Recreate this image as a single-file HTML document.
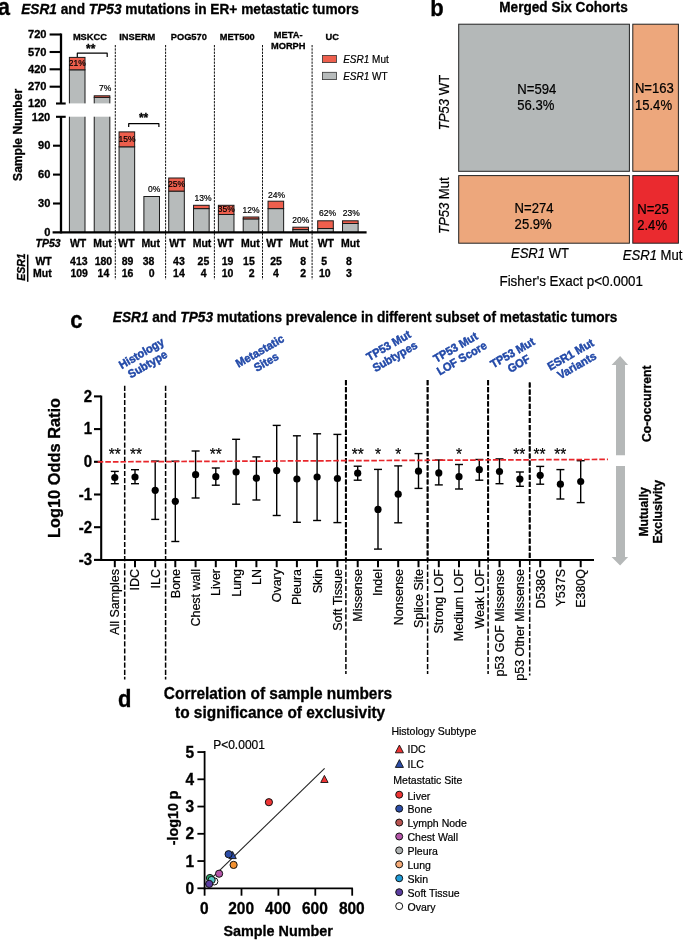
<!DOCTYPE html>
<html lang="en">
<head>
<meta charset="utf-8">
<title>ESR1 and TP53 mutations in ER+ metastatic tumors</title>
<style>
html,body{margin:0;padding:0;background:#fff;}
body{width:685px;height:940px;overflow:hidden;}
svg{display:block;font-family:"Liberation Sans",Arial,Helvetica,sans-serif;}
svg text{white-space:pre;}
</style>
</head>
<body>
<svg width="685" height="940" viewBox="0 0 685 940">
<rect x="0" y="0" width="685" height="940" fill="#ffffff"/>
<text text-anchor="start" fill="#000" style="font-size:22px;font-weight:bold;stroke:#000;stroke-width:0.3px;" transform="translate(-2.20 15.10) scale(1 1.05)" >a</text>
<text text-anchor="start" fill="#000" style="font-size:13.69px;font-weight:bold;stroke:#000;stroke-width:0.3px;" transform="translate(21.20 14.10) scale(1 1.05)" ><tspan style="font-style:italic">ESR1</tspan> and <tspan style="font-style:italic">TP53</tspan> mutations in ER+ metastatic tumors</text>
<rect x="69.40" y="69.80" width="15.60" height="162.60" fill="#b7bbbb" stroke="#1a1a1a" stroke-width="1" />
<rect x="69.40" y="57.40" width="15.60" height="12.40" fill="#ee5f4d" stroke="#1a1a1a" stroke-width="1" />
<rect x="94.23" y="97.40" width="15.60" height="135.00" fill="#b7bbbb" stroke="#1a1a1a" stroke-width="1" />
<rect x="94.23" y="95.80" width="15.60" height="1.60" fill="#ee5f4d" stroke="#1a1a1a" stroke-width="1" />
<rect x="119.06" y="146.80" width="15.60" height="85.60" fill="#b7bbbb" stroke="#1a1a1a" stroke-width="1" />
<rect x="119.06" y="131.90" width="15.60" height="14.90" fill="#ee5f4d" stroke="#1a1a1a" stroke-width="1" />
<rect x="143.89" y="196.50" width="15.60" height="35.90" fill="#b7bbbb" stroke="#1a1a1a" stroke-width="1" />
<rect x="168.72" y="191.10" width="15.60" height="41.30" fill="#b7bbbb" stroke="#1a1a1a" stroke-width="1" />
<rect x="168.72" y="178.00" width="15.60" height="13.10" fill="#ee5f4d" stroke="#1a1a1a" stroke-width="1" />
<rect x="193.55" y="208.60" width="15.60" height="23.80" fill="#b7bbbb" stroke="#1a1a1a" stroke-width="1" />
<rect x="193.55" y="205.30" width="15.60" height="3.30" fill="#ee5f4d" stroke="#1a1a1a" stroke-width="1" />
<rect x="218.38" y="214.50" width="15.60" height="17.90" fill="#b7bbbb" stroke="#1a1a1a" stroke-width="1" />
<rect x="218.38" y="205.30" width="15.60" height="9.20" fill="#ee5f4d" stroke="#1a1a1a" stroke-width="1" />
<rect x="243.21" y="218.90" width="15.60" height="13.50" fill="#b7bbbb" stroke="#1a1a1a" stroke-width="1" />
<rect x="243.21" y="217.00" width="15.60" height="1.90" fill="#ee5f4d" stroke="#1a1a1a" stroke-width="1" />
<rect x="268.04" y="208.60" width="15.60" height="23.80" fill="#b7bbbb" stroke="#1a1a1a" stroke-width="1" />
<rect x="268.04" y="201.20" width="15.60" height="7.40" fill="#ee5f4d" stroke="#1a1a1a" stroke-width="1" />
<rect x="292.87" y="229.60" width="15.60" height="2.80" fill="#b7bbbb" stroke="#1a1a1a" stroke-width="1" />
<rect x="292.87" y="227.20" width="15.60" height="2.40" fill="#ee5f4d" stroke="#1a1a1a" stroke-width="1" />
<rect x="317.70" y="228.50" width="15.60" height="3.90" fill="#b7bbbb" stroke="#1a1a1a" stroke-width="1" />
<rect x="317.70" y="220.80" width="15.60" height="7.70" fill="#ee5f4d" stroke="#1a1a1a" stroke-width="1" />
<rect x="342.53" y="223.50" width="15.60" height="8.90" fill="#b7bbbb" stroke="#1a1a1a" stroke-width="1" />
<rect x="342.53" y="220.80" width="15.60" height="2.70" fill="#ee5f4d" stroke="#1a1a1a" stroke-width="1" />
<rect x="64" y="103.4" width="50" height="13.3" fill="#fff"/>
<line x1="115.30" y1="45.00" x2="115.30" y2="279.50" stroke="#111" stroke-width="1.0" stroke-dasharray="2.3 1.0"/>
<line x1="165.60" y1="45.00" x2="165.60" y2="279.50" stroke="#111" stroke-width="1.0" stroke-dasharray="2.3 1.0"/>
<line x1="214.40" y1="45.00" x2="214.40" y2="279.50" stroke="#111" stroke-width="1.0" stroke-dasharray="2.3 1.0"/>
<line x1="262.50" y1="45.00" x2="262.50" y2="279.50" stroke="#111" stroke-width="1.0" stroke-dasharray="2.3 1.0"/>
<line x1="312.10" y1="45.00" x2="312.10" y2="279.50" stroke="#111" stroke-width="1.0" stroke-dasharray="2.3 1.0"/>
<line x1="61.00" y1="33.50" x2="61.00" y2="103.50" stroke="#000" stroke-width="2.3" />
<line x1="49.60" y1="34.50" x2="61.00" y2="34.50" stroke="#000" stroke-width="2.1" />
<line x1="49.60" y1="52.00" x2="61.00" y2="52.00" stroke="#000" stroke-width="2.1" />
<line x1="49.60" y1="69.30" x2="61.00" y2="69.30" stroke="#000" stroke-width="2.1" />
<line x1="49.60" y1="86.70" x2="61.00" y2="86.70" stroke="#000" stroke-width="2.1" />
<line x1="56.00" y1="103.50" x2="65.70" y2="103.50" stroke="#000" stroke-width="2.1" />
<line x1="56.00" y1="116.80" x2="65.70" y2="116.80" stroke="#000" stroke-width="2.1" />
<line x1="61.00" y1="116.80" x2="61.00" y2="233.40" stroke="#000" stroke-width="2.3" />
<line x1="53.00" y1="145.70" x2="61.00" y2="145.70" stroke="#000" stroke-width="2.1" />
<line x1="53.00" y1="174.60" x2="61.00" y2="174.60" stroke="#000" stroke-width="2.1" />
<line x1="53.00" y1="203.50" x2="61.00" y2="203.50" stroke="#000" stroke-width="2.1" />
<line x1="52.60" y1="232.40" x2="366.60" y2="232.40" stroke="#000" stroke-width="2.1" />
<text text-anchor="end" fill="#000" style="font-size:11.1px;font-weight:bold;stroke:#000;stroke-width:0.3px;" transform="translate(46.50 38.00) scale(1 1.05)" >720</text>
<text text-anchor="end" fill="#000" style="font-size:11.1px;font-weight:bold;stroke:#000;stroke-width:0.3px;" transform="translate(46.50 55.70) scale(1 1.05)" >570</text>
<text text-anchor="end" fill="#000" style="font-size:11.1px;font-weight:bold;stroke:#000;stroke-width:0.3px;" transform="translate(46.50 73.00) scale(1 1.05)" >420</text>
<text text-anchor="end" fill="#000" style="font-size:11.1px;font-weight:bold;stroke:#000;stroke-width:0.3px;" transform="translate(46.50 90.40) scale(1 1.05)" >270</text>
<text text-anchor="end" fill="#000" style="font-size:11.1px;font-weight:bold;stroke:#000;stroke-width:0.3px;" transform="translate(46.50 107.40) scale(1 1.05)" >120</text>
<text text-anchor="end" fill="#000" style="font-size:11.1px;font-weight:bold;stroke:#000;stroke-width:0.3px;" transform="translate(50.30 120.70) scale(1 1.05)" >120</text>
<text text-anchor="end" fill="#000" style="font-size:11.1px;font-weight:bold;stroke:#000;stroke-width:0.3px;" transform="translate(50.30 149.40) scale(1 1.05)" >90</text>
<text text-anchor="end" fill="#000" style="font-size:11.1px;font-weight:bold;stroke:#000;stroke-width:0.3px;" transform="translate(50.30 178.30) scale(1 1.05)" >60</text>
<text text-anchor="end" fill="#000" style="font-size:11.1px;font-weight:bold;stroke:#000;stroke-width:0.3px;" transform="translate(50.30 207.20) scale(1 1.05)" >30</text>
<text text-anchor="end" fill="#000" style="font-size:11.1px;font-weight:bold;stroke:#000;stroke-width:0.3px;" transform="translate(50.30 236.10) scale(1 1.05)" >0</text>
<text text-anchor="middle" fill="#000" style="font-size:12.1px;font-weight:bold;stroke:#000;stroke-width:0.3px;" transform="translate(22.00 134.90) rotate(-90) scale(1 1.05)" >Sample Number</text>
<text text-anchor="middle" fill="#000" style="font-size:9.3px;font-weight:bold;stroke:#000;stroke-width:0.3px;" transform="translate(89.90 39.50) scale(1 1.05)" >MSKCC</text>
<text text-anchor="middle" fill="#000" style="font-size:9.3px;font-weight:bold;stroke:#000;stroke-width:0.3px;" transform="translate(137.30 39.60) scale(1 1.05)" >INSERM</text>
<text text-anchor="middle" fill="#000" style="font-size:9.3px;font-weight:bold;stroke:#000;stroke-width:0.3px;" transform="translate(188.80 39.60) scale(1 1.05)" >POG570</text>
<text text-anchor="middle" fill="#000" style="font-size:9.3px;font-weight:bold;stroke:#000;stroke-width:0.3px;" transform="translate(237.20 39.70) scale(1 1.05)" >MET500</text>
<text text-anchor="middle" fill="#000" style="font-size:9.3px;font-weight:bold;stroke:#000;stroke-width:0.3px;" transform="translate(288.20 38.10) scale(1 1.05)" >META-</text>
<text text-anchor="middle" fill="#000" style="font-size:9.3px;font-weight:bold;stroke:#000;stroke-width:0.3px;" transform="translate(288.20 48.70) scale(1 1.05)" >MORPH</text>
<text text-anchor="middle" fill="#000" style="font-size:9.3px;font-weight:bold;stroke:#000;stroke-width:0.3px;" transform="translate(332.30 39.70) scale(1 1.05)" >UC</text>
<path d="M77.3 56.9 V53.2 H107.2 V56.9" fill="none" stroke="#000" stroke-width="1.2" stroke-linejoin="round"/>
<text text-anchor="middle" fill="#000" style="font-size:12px;font-weight:bold;stroke:#000;stroke-width:0.3px;" transform="translate(90.70 53.20) scale(1 1.05)" >**</text>
<path d="M128.7 127.0 V123.7 H158.9 V127.0" fill="none" stroke="#000" stroke-width="1.2" stroke-linejoin="round"/>
<text text-anchor="middle" fill="#000" style="font-size:12px;font-weight:bold;stroke:#000;stroke-width:0.3px;" transform="translate(143.60 122.20) scale(1 1.05)" >**</text>
<text text-anchor="middle" fill="#000" style="font-size:8.5px;stroke:#000;stroke-width:0.2px;" transform="translate(77.20 66.20) scale(1 1.05)" >21%</text>
<text text-anchor="middle" fill="#000" style="font-size:8.5px;stroke:#000;stroke-width:0.2px;" transform="translate(105.20 90.70) scale(1 1.05)" >7%</text>
<text text-anchor="middle" fill="#000" style="font-size:8.5px;stroke:#000;stroke-width:0.2px;" transform="translate(127.00 142.40) scale(1 1.05)" >15%</text>
<text text-anchor="middle" fill="#000" style="font-size:8.5px;stroke:#000;stroke-width:0.2px;" transform="translate(154.20 192.40) scale(1 1.05)" >0%</text>
<text text-anchor="middle" fill="#000" style="font-size:8.5px;stroke:#000;stroke-width:0.2px;" transform="translate(176.60 187.20) scale(1 1.05)" >25%</text>
<text text-anchor="middle" fill="#000" style="font-size:8.5px;stroke:#000;stroke-width:0.2px;" transform="translate(203.00 201.20) scale(1 1.05)" >13%</text>
<text text-anchor="middle" fill="#000" style="font-size:8.5px;stroke:#000;stroke-width:0.2px;" transform="translate(226.30 212.00) scale(1 1.05)" >35%</text>
<text text-anchor="middle" fill="#000" style="font-size:8.5px;stroke:#000;stroke-width:0.2px;" transform="translate(251.10 212.80) scale(1 1.05)" >12%</text>
<text text-anchor="middle" fill="#000" style="font-size:8.5px;stroke:#000;stroke-width:0.2px;" transform="translate(276.50 197.70) scale(1 1.05)" >24%</text>
<text text-anchor="middle" fill="#000" style="font-size:8.5px;stroke:#000;stroke-width:0.2px;" transform="translate(300.70 222.80) scale(1 1.05)" >20%</text>
<text text-anchor="middle" fill="#000" style="font-size:8.5px;stroke:#000;stroke-width:0.2px;" transform="translate(327.60 215.80) scale(1 1.05)" >62%</text>
<text text-anchor="middle" fill="#000" style="font-size:8.5px;stroke:#000;stroke-width:0.2px;" transform="translate(351.20 215.80) scale(1 1.05)" >23%</text>
<rect x="322.40" y="55.40" width="14.00" height="7.20" fill="#ee5f4d" stroke="#333" stroke-width="0.8" />
<rect x="322.40" y="72.30" width="14.00" height="7.30" fill="#b7bbbb" stroke="#333" stroke-width="0.8" />
<text text-anchor="start" fill="#000" style="font-size:10px;stroke:#000;stroke-width:0.2px;" transform="translate(343.20 62.70) scale(1 1.05)" ><tspan style="font-style:italic">ESR1</tspan> Mut</text>
<text text-anchor="start" fill="#000" style="font-size:10px;stroke:#000;stroke-width:0.2px;" transform="translate(343.20 79.80) scale(1 1.05)" ><tspan style="font-style:italic">ESR1</tspan> WT</text>
<text text-anchor="start" fill="#000" style="font-size:10.5px;font-weight:bold;stroke:#000;stroke-width:0.3px;font-style:italic;" transform="translate(35.60 247.10) scale(1 1.05)" >TP53</text>
<text text-anchor="middle" fill="#000" style="font-size:10.5px;font-weight:bold;stroke:#000;stroke-width:0.3px;" transform="translate(78.10 247.10) scale(1 1.05)" >WT</text>
<text text-anchor="middle" fill="#000" style="font-size:10.5px;font-weight:bold;stroke:#000;stroke-width:0.3px;" transform="translate(126.40 247.10) scale(1 1.05)" >WT</text>
<text text-anchor="middle" fill="#000" style="font-size:10.5px;font-weight:bold;stroke:#000;stroke-width:0.3px;" transform="translate(177.40 247.10) scale(1 1.05)" >WT</text>
<text text-anchor="middle" fill="#000" style="font-size:10.5px;font-weight:bold;stroke:#000;stroke-width:0.3px;" transform="translate(225.60 247.10) scale(1 1.05)" >WT</text>
<text text-anchor="middle" fill="#000" style="font-size:10.5px;font-weight:bold;stroke:#000;stroke-width:0.3px;" transform="translate(274.50 247.10) scale(1 1.05)" >WT</text>
<text text-anchor="middle" fill="#000" style="font-size:10.5px;font-weight:bold;stroke:#000;stroke-width:0.3px;" transform="translate(325.80 247.10) scale(1 1.05)" >WT</text>
<text text-anchor="middle" fill="#000" style="font-size:10.5px;font-weight:bold;stroke:#000;stroke-width:0.3px;" transform="translate(102.50 247.10) scale(1 1.05)" >Mut</text>
<text text-anchor="middle" fill="#000" style="font-size:10.5px;font-weight:bold;stroke:#000;stroke-width:0.3px;" transform="translate(150.70 247.10) scale(1 1.05)" >Mut</text>
<text text-anchor="middle" fill="#000" style="font-size:10.5px;font-weight:bold;stroke:#000;stroke-width:0.3px;" transform="translate(202.00 247.10) scale(1 1.05)" >Mut</text>
<text text-anchor="middle" fill="#000" style="font-size:10.5px;font-weight:bold;stroke:#000;stroke-width:0.3px;" transform="translate(250.30 247.10) scale(1 1.05)" >Mut</text>
<text text-anchor="middle" fill="#000" style="font-size:10.5px;font-weight:bold;stroke:#000;stroke-width:0.3px;" transform="translate(298.80 247.10) scale(1 1.05)" >Mut</text>
<text text-anchor="middle" fill="#000" style="font-size:10.5px;font-weight:bold;stroke:#000;stroke-width:0.3px;" transform="translate(350.30 247.10) scale(1 1.05)" >Mut</text>
<text text-anchor="middle" fill="#000" style="font-size:10.5px;font-weight:bold;stroke:#000;stroke-width:0.3px;" transform="translate(43.60 264.60) scale(1 1.05)" >WT</text>
<text text-anchor="middle" fill="#000" style="font-size:10.5px;font-weight:bold;stroke:#000;stroke-width:0.3px;" transform="translate(42.40 277.10) scale(1 1.05)" >Mut</text>
<text text-anchor="middle" fill="#000" style="font-size:10.5px;font-weight:bold;stroke:#000;stroke-width:0.3px;font-style:italic;" transform="translate(25.10 267.00) rotate(-90) scale(1 1.05)" >ESR1</text>
<line x1="27.70" y1="254.60" x2="27.70" y2="281.80" stroke="#000" stroke-width="1.5" />
<text text-anchor="middle" fill="#000" style="font-size:10.5px;font-weight:bold;stroke:#000;stroke-width:0.3px;" transform="translate(78.80 264.60) scale(1 1.05)" >413</text>
<text text-anchor="middle" fill="#000" style="font-size:10.5px;font-weight:bold;stroke:#000;stroke-width:0.3px;" transform="translate(103.40 264.60) scale(1 1.05)" >180</text>
<text text-anchor="middle" fill="#000" style="font-size:10.5px;font-weight:bold;stroke:#000;stroke-width:0.3px;" transform="translate(127.50 264.60) scale(1 1.05)" >89</text>
<text text-anchor="middle" fill="#000" style="font-size:10.5px;font-weight:bold;stroke:#000;stroke-width:0.3px;" transform="translate(148.50 264.60) scale(1 1.05)" >38</text>
<text text-anchor="middle" fill="#000" style="font-size:10.5px;font-weight:bold;stroke:#000;stroke-width:0.3px;" transform="translate(178.90 264.60) scale(1 1.05)" >43</text>
<text text-anchor="middle" fill="#000" style="font-size:10.5px;font-weight:bold;stroke:#000;stroke-width:0.3px;" transform="translate(203.40 264.60) scale(1 1.05)" >25</text>
<text text-anchor="middle" fill="#000" style="font-size:10.5px;font-weight:bold;stroke:#000;stroke-width:0.3px;" transform="translate(227.50 264.60) scale(1 1.05)" >19</text>
<text text-anchor="middle" fill="#000" style="font-size:10.5px;font-weight:bold;stroke:#000;stroke-width:0.3px;" transform="translate(248.90 264.60) scale(1 1.05)" >15</text>
<text text-anchor="middle" fill="#000" style="font-size:10.5px;font-weight:bold;stroke:#000;stroke-width:0.3px;" transform="translate(276.00 264.60) scale(1 1.05)" >25</text>
<text text-anchor="middle" fill="#000" style="font-size:10.5px;font-weight:bold;stroke:#000;stroke-width:0.3px;" transform="translate(303.20 264.60) scale(1 1.05)" >8</text>
<text text-anchor="middle" fill="#000" style="font-size:10.5px;font-weight:bold;stroke:#000;stroke-width:0.3px;" transform="translate(324.20 264.60) scale(1 1.05)" >5</text>
<text text-anchor="middle" fill="#000" style="font-size:10.5px;font-weight:bold;stroke:#000;stroke-width:0.3px;" transform="translate(348.90 264.60) scale(1 1.05)" >8</text>
<text text-anchor="middle" fill="#000" style="font-size:10.5px;font-weight:bold;stroke:#000;stroke-width:0.3px;" transform="translate(79.20 277.10) scale(1 1.05)" >109</text>
<text text-anchor="middle" fill="#000" style="font-size:10.5px;font-weight:bold;stroke:#000;stroke-width:0.3px;" transform="translate(103.40 277.10) scale(1 1.05)" >14</text>
<text text-anchor="middle" fill="#000" style="font-size:10.5px;font-weight:bold;stroke:#000;stroke-width:0.3px;" transform="translate(127.50 277.10) scale(1 1.05)" >16</text>
<text text-anchor="middle" fill="#000" style="font-size:10.5px;font-weight:bold;stroke:#000;stroke-width:0.3px;" transform="translate(151.60 277.10) scale(1 1.05)" >0</text>
<text text-anchor="middle" fill="#000" style="font-size:10.5px;font-weight:bold;stroke:#000;stroke-width:0.3px;" transform="translate(178.90 277.10) scale(1 1.05)" >14</text>
<text text-anchor="middle" fill="#000" style="font-size:10.5px;font-weight:bold;stroke:#000;stroke-width:0.3px;" transform="translate(203.60 277.10) scale(1 1.05)" >4</text>
<text text-anchor="middle" fill="#000" style="font-size:10.5px;font-weight:bold;stroke:#000;stroke-width:0.3px;" transform="translate(227.50 277.10) scale(1 1.05)" >10</text>
<text text-anchor="middle" fill="#000" style="font-size:10.5px;font-weight:bold;stroke:#000;stroke-width:0.3px;" transform="translate(251.60 277.10) scale(1 1.05)" >2</text>
<text text-anchor="middle" fill="#000" style="font-size:10.5px;font-weight:bold;stroke:#000;stroke-width:0.3px;" transform="translate(276.00 277.10) scale(1 1.05)" >4</text>
<text text-anchor="middle" fill="#000" style="font-size:10.5px;font-weight:bold;stroke:#000;stroke-width:0.3px;" transform="translate(303.20 277.10) scale(1 1.05)" >2</text>
<text text-anchor="middle" fill="#000" style="font-size:10.5px;font-weight:bold;stroke:#000;stroke-width:0.3px;" transform="translate(324.80 277.10) scale(1 1.05)" >10</text>
<text text-anchor="middle" fill="#000" style="font-size:10.5px;font-weight:bold;stroke:#000;stroke-width:0.3px;" transform="translate(348.90 277.10) scale(1 1.05)" >3</text>
<text text-anchor="start" fill="#000" style="font-size:22px;font-weight:bold;stroke:#000;stroke-width:0.3px;" transform="translate(430.30 15.80) scale(1 1.05)" >b</text>
<text text-anchor="middle" fill="#000" style="font-size:13.6px;font-weight:bold;stroke:#000;stroke-width:0.3px;" transform="translate(563.50 11.60) scale(1 1.05)" >Merged Six Cohorts</text>
<rect x="458.70" y="24.20" width="170.70" height="147.10" fill="#b4b8b8" stroke="#222" stroke-width="1" />
<rect x="632.80" y="24.20" width="45.60" height="147.10" fill="#eda77c" stroke="#222" stroke-width="1" />
<rect x="458.70" y="175.60" width="170.70" height="67.60" fill="#eda77c" stroke="#222" stroke-width="1" />
<rect x="632.80" y="175.60" width="45.60" height="67.60" fill="#ea2a2f" stroke="#222" stroke-width="1" />
<text text-anchor="start" fill="#000" style="font-size:13.1px;stroke:#000;stroke-width:0.2px;" transform="translate(517.30 94.00) scale(1 1.05)" >N=594</text>
<text text-anchor="start" fill="#000" style="font-size:13.1px;stroke:#000;stroke-width:0.2px;" transform="translate(517.30 110.30) scale(1 1.05)" >56.3%</text>
<text text-anchor="start" fill="#000" style="font-size:13.1px;stroke:#000;stroke-width:0.2px;" transform="translate(634.90 92.80) scale(1 1.05)" >N=163</text>
<text text-anchor="start" fill="#000" style="font-size:13.1px;stroke:#000;stroke-width:0.2px;" transform="translate(634.90 109.50) scale(1 1.05)" >15.4%</text>
<text text-anchor="start" fill="#000" style="font-size:13.1px;stroke:#000;stroke-width:0.2px;" transform="translate(514.60 213.00) scale(1 1.05)" >N=274</text>
<text text-anchor="start" fill="#000" style="font-size:13.1px;stroke:#000;stroke-width:0.2px;" transform="translate(514.60 229.30) scale(1 1.05)" >25.9%</text>
<text text-anchor="start" fill="#000" style="font-size:13.1px;stroke:#000;stroke-width:0.2px;" transform="translate(637.20 213.80) scale(1 1.05)" >N=25</text>
<text text-anchor="start" fill="#000" style="font-size:13.1px;stroke:#000;stroke-width:0.2px;" transform="translate(637.20 230.00) scale(1 1.05)" >2.4%</text>
<text text-anchor="middle" fill="#000" style="font-size:13.1px;stroke:#000;stroke-width:0.2px;" transform="translate(448.60 102.50) rotate(-90) scale(1 1.05)" ><tspan style="font-style:italic">TP53</tspan> WT</text>
<text text-anchor="middle" fill="#000" style="font-size:13.1px;stroke:#000;stroke-width:0.2px;" transform="translate(449.40 205.70) rotate(-90) scale(1 1.05)" ><tspan style="font-style:italic">TP53</tspan> Mut</text>
<text text-anchor="middle" fill="#000" style="font-size:13.1px;stroke:#000;stroke-width:0.2px;" transform="translate(540.00 258.30) scale(1 1.05)" ><tspan style="font-style:italic">ESR1</tspan> WT</text>
<text text-anchor="middle" fill="#000" style="font-size:13.1px;stroke:#000;stroke-width:0.2px;" transform="translate(652.60 260.20) scale(1 1.05)" ><tspan style="font-style:italic">ESR1</tspan> Mut</text>
<text text-anchor="middle" fill="#000" style="font-size:13.4px;stroke:#000;stroke-width:0.2px;" transform="translate(571.20 286.20) scale(1 1.05)" >Fisher&#39;s Exact p&lt;0.0001</text>
<text text-anchor="start" fill="#000" style="font-size:22px;font-weight:bold;stroke:#000;stroke-width:0.3px;" transform="translate(70.20 327.60) scale(1 1.05)" >c</text>
<text text-anchor="start" fill="#000" style="font-size:13.67px;font-weight:bold;stroke:#000;stroke-width:0.3px;" transform="translate(112.80 321.90) scale(1 1.05)" ><tspan style="font-style:italic">ESR1</tspan> and <tspan style="font-style:italic">TP53</tspan> mutations prevalence in different subset of metastatic tumors</text>
<g transform="translate(144.5 358.8) rotate(-30)" fill="#2249a8" style="font-size:11px;font-weight:bold" stroke="#2249a8" stroke-width="0.45" text-anchor="middle"><text transform="translate(0 -2.4) scale(1 1.05)">Histology</text><text transform="translate(0 10.2) scale(1 1.05)">Subtype</text></g>
<g transform="translate(263.0 356.5) rotate(-30)" fill="#2249a8" style="font-size:11px;font-weight:bold" stroke="#2249a8" stroke-width="0.45" text-anchor="middle"><text transform="translate(0 -2.4) scale(1 1.05)">Metastatic</text><text transform="translate(0 10.2) scale(1 1.05)">Sites</text></g>
<g transform="translate(391.7 351.0) rotate(-30)" fill="#2249a8" style="font-size:11px;font-weight:bold" stroke="#2249a8" stroke-width="0.45" text-anchor="middle"><text transform="translate(0 -2.4) scale(1 1.05)">TP53 Mut</text><text transform="translate(0 10.2) scale(1 1.05)">Subtypes</text></g>
<g transform="translate(458.6 352.8) rotate(-30)" fill="#2249a8" style="font-size:11px;font-weight:bold" stroke="#2249a8" stroke-width="0.45" text-anchor="middle"><text transform="translate(0 -2.4) scale(1 1.05)">TP53 Mut</text><text transform="translate(0 10.2) scale(1 1.05)">LOF Score</text></g>
<g transform="translate(515.6 358.3) rotate(-30)" fill="#2249a8" style="font-size:11px;font-weight:bold" stroke="#2249a8" stroke-width="0.45" text-anchor="middle"><text transform="translate(0 -2.4) scale(1 1.05)">TP53 Mut</text><text transform="translate(0 10.2) scale(1 1.05)">GOF</text></g>
<g transform="translate(573.6 360.0) rotate(-30)" fill="#2249a8" style="font-size:11px;font-weight:bold" stroke="#2249a8" stroke-width="0.45" text-anchor="middle"><text transform="translate(0 -2.4) scale(1 1.05)">ESR1 Mut</text><text transform="translate(0 10.2) scale(1 1.05)">Variants</text></g>
<line x1="124.70" y1="385.70" x2="124.70" y2="679.50" stroke="#000" stroke-width="1.5" stroke-dasharray="5.2 1.9"/>
<line x1="165.60" y1="385.70" x2="165.60" y2="679.50" stroke="#000" stroke-width="1.5" stroke-dasharray="5.2 1.9"/>
<line x1="345.90" y1="380.00" x2="345.90" y2="674.00" stroke="#000" stroke-width="1.5" stroke-dasharray="5.2 1.9"/>
<line x1="345.90" y1="380.00" x2="345.90" y2="560.00" stroke="#000" stroke-width="2.0" stroke-dasharray="5.2 1.9"/>
<line x1="427.60" y1="380.00" x2="427.60" y2="674.00" stroke="#000" stroke-width="1.5" stroke-dasharray="5.2 1.9"/>
<line x1="427.60" y1="380.00" x2="427.60" y2="560.00" stroke="#000" stroke-width="2.0" stroke-dasharray="5.2 1.9"/>
<line x1="488.10" y1="380.00" x2="488.10" y2="674.00" stroke="#000" stroke-width="1.5" stroke-dasharray="5.2 1.9"/>
<line x1="488.10" y1="380.00" x2="488.10" y2="560.00" stroke="#000" stroke-width="2.0" stroke-dasharray="5.2 1.9"/>
<line x1="529.70" y1="382.40" x2="529.70" y2="675.50" stroke="#000" stroke-width="1.5" stroke-dasharray="5.2 1.9"/>
<line x1="529.70" y1="382.40" x2="529.70" y2="560.00" stroke="#000" stroke-width="2.0" stroke-dasharray="5.2 1.9"/>
<line x1="101.20" y1="395.60" x2="101.20" y2="561.00" stroke="#000" stroke-width="2.1" />
<line x1="100.20" y1="560.00" x2="594.00" y2="560.00" stroke="#000" stroke-width="2.1" />
<line x1="94.00" y1="396.40" x2="101.20" y2="396.40" stroke="#000" stroke-width="2.1" />
<text text-anchor="end" fill="#000" style="font-size:15px;font-weight:bold;stroke:#000;stroke-width:0.3px;" transform="translate(92.00 401.70) scale(1 1.05)" >2</text>
<line x1="94.00" y1="429.10" x2="101.20" y2="429.10" stroke="#000" stroke-width="2.1" />
<text text-anchor="end" fill="#000" style="font-size:15px;font-weight:bold;stroke:#000;stroke-width:0.3px;" transform="translate(92.00 434.40) scale(1 1.05)" >1</text>
<line x1="94.00" y1="461.80" x2="101.20" y2="461.80" stroke="#000" stroke-width="2.1" />
<text text-anchor="end" fill="#000" style="font-size:15px;font-weight:bold;stroke:#000;stroke-width:0.3px;" transform="translate(92.00 467.10) scale(1 1.05)" >0</text>
<line x1="94.00" y1="494.50" x2="101.20" y2="494.50" stroke="#000" stroke-width="2.1" />
<text text-anchor="end" fill="#000" style="font-size:15px;font-weight:bold;stroke:#000;stroke-width:0.3px;" transform="translate(92.00 499.80) scale(1 1.05)" >-1</text>
<line x1="94.00" y1="527.20" x2="101.20" y2="527.20" stroke="#000" stroke-width="2.1" />
<text text-anchor="end" fill="#000" style="font-size:15px;font-weight:bold;stroke:#000;stroke-width:0.3px;" transform="translate(92.00 532.50) scale(1 1.05)" >-2</text>
<line x1="94.00" y1="559.90" x2="101.20" y2="559.90" stroke="#000" stroke-width="2.1" />
<text text-anchor="end" fill="#000" style="font-size:15px;font-weight:bold;stroke:#000;stroke-width:0.3px;" transform="translate(92.00 565.20) scale(1 1.05)" >-3</text>
<text text-anchor="middle" fill="#000" style="font-size:16.4px;font-weight:bold;stroke:#000;stroke-width:0.3px;" transform="translate(60.30 468.00) rotate(-90) scale(1 1.05)" >Log10 Odds Ratio</text>
<line x1="114.80" y1="471.40" x2="114.80" y2="483.70" stroke="#000" stroke-width="1.4" />
<line x1="110.80" y1="471.40" x2="118.80" y2="471.40" stroke="#000" stroke-width="1.4" />
<line x1="110.80" y1="483.70" x2="118.80" y2="483.70" stroke="#000" stroke-width="1.4" />
<circle cx="114.80" cy="477.50" r="3.6" fill="#000"/>
<line x1="114.80" y1="560.00" x2="114.80" y2="567.20" stroke="#000" stroke-width="2.0" />
<text text-anchor="end" fill="#000" style="font-size:12.5px;stroke:#000;stroke-width:0.2px;" transform="translate(119.20 569.00) rotate(-90) scale(1 1.05)" >All Samples</text>
<line x1="135.00" y1="469.70" x2="135.00" y2="483.70" stroke="#000" stroke-width="1.4" />
<line x1="131.00" y1="469.70" x2="139.00" y2="469.70" stroke="#000" stroke-width="1.4" />
<line x1="131.00" y1="483.70" x2="139.00" y2="483.70" stroke="#000" stroke-width="1.4" />
<circle cx="135.00" cy="477.00" r="3.6" fill="#000"/>
<line x1="135.00" y1="560.00" x2="135.00" y2="567.20" stroke="#000" stroke-width="2.0" />
<text text-anchor="end" fill="#000" style="font-size:12.5px;stroke:#000;stroke-width:0.2px;" transform="translate(139.40 569.00) rotate(-90) scale(1 1.05)" >IDC</text>
<line x1="155.20" y1="461.10" x2="155.20" y2="519.40" stroke="#000" stroke-width="1.4" />
<line x1="151.20" y1="461.10" x2="159.20" y2="461.10" stroke="#000" stroke-width="1.4" />
<line x1="151.20" y1="519.40" x2="159.20" y2="519.40" stroke="#000" stroke-width="1.4" />
<circle cx="155.20" cy="490.30" r="3.6" fill="#000"/>
<line x1="155.20" y1="560.00" x2="155.20" y2="567.20" stroke="#000" stroke-width="2.0" />
<text text-anchor="end" fill="#000" style="font-size:12.5px;stroke:#000;stroke-width:0.2px;" transform="translate(159.60 569.00) rotate(-90) scale(1 1.05)" >ILC</text>
<line x1="175.30" y1="461.20" x2="175.30" y2="541.50" stroke="#000" stroke-width="1.4" />
<line x1="171.30" y1="461.20" x2="179.30" y2="461.20" stroke="#000" stroke-width="1.4" />
<line x1="171.30" y1="541.50" x2="179.30" y2="541.50" stroke="#000" stroke-width="1.4" />
<circle cx="175.30" cy="501.30" r="3.6" fill="#000"/>
<line x1="175.30" y1="560.00" x2="175.30" y2="567.20" stroke="#000" stroke-width="2.0" />
<text text-anchor="end" fill="#000" style="font-size:12.5px;stroke:#000;stroke-width:0.2px;" transform="translate(179.70 569.00) rotate(-90) scale(1 1.05)" >Bone</text>
<line x1="195.60" y1="451.00" x2="195.60" y2="498.00" stroke="#000" stroke-width="1.4" />
<line x1="191.60" y1="451.00" x2="199.60" y2="451.00" stroke="#000" stroke-width="1.4" />
<line x1="191.60" y1="498.00" x2="199.60" y2="498.00" stroke="#000" stroke-width="1.4" />
<circle cx="195.60" cy="474.70" r="3.6" fill="#000"/>
<line x1="195.60" y1="560.00" x2="195.60" y2="567.20" stroke="#000" stroke-width="2.0" />
<text text-anchor="end" fill="#000" style="font-size:12.5px;stroke:#000;stroke-width:0.2px;" transform="translate(200.00 569.00) rotate(-90) scale(1 1.05)" >Chest wall</text>
<line x1="215.80" y1="468.00" x2="215.80" y2="485.20" stroke="#000" stroke-width="1.4" />
<line x1="211.80" y1="468.00" x2="219.80" y2="468.00" stroke="#000" stroke-width="1.4" />
<line x1="211.80" y1="485.20" x2="219.80" y2="485.20" stroke="#000" stroke-width="1.4" />
<circle cx="215.80" cy="476.70" r="3.6" fill="#000"/>
<line x1="215.80" y1="560.00" x2="215.80" y2="567.20" stroke="#000" stroke-width="2.0" />
<text text-anchor="end" fill="#000" style="font-size:12.5px;stroke:#000;stroke-width:0.2px;" transform="translate(220.20 569.00) rotate(-90) scale(1 1.05)" >Liver</text>
<line x1="236.10" y1="439.30" x2="236.10" y2="504.20" stroke="#000" stroke-width="1.4" />
<line x1="232.10" y1="439.30" x2="240.10" y2="439.30" stroke="#000" stroke-width="1.4" />
<line x1="232.10" y1="504.20" x2="240.10" y2="504.20" stroke="#000" stroke-width="1.4" />
<circle cx="236.10" cy="472.00" r="3.6" fill="#000"/>
<line x1="236.10" y1="560.00" x2="236.10" y2="567.20" stroke="#000" stroke-width="2.0" />
<text text-anchor="end" fill="#000" style="font-size:12.5px;stroke:#000;stroke-width:0.2px;" transform="translate(240.50 569.00) rotate(-90) scale(1 1.05)" >Lung</text>
<line x1="256.40" y1="456.90" x2="256.40" y2="500.00" stroke="#000" stroke-width="1.4" />
<line x1="252.40" y1="456.90" x2="260.40" y2="456.90" stroke="#000" stroke-width="1.4" />
<line x1="252.40" y1="500.00" x2="260.40" y2="500.00" stroke="#000" stroke-width="1.4" />
<circle cx="256.40" cy="478.20" r="3.6" fill="#000"/>
<line x1="256.40" y1="560.00" x2="256.40" y2="567.20" stroke="#000" stroke-width="2.0" />
<text text-anchor="end" fill="#000" style="font-size:12.5px;stroke:#000;stroke-width:0.2px;" transform="translate(260.80 569.00) rotate(-90) scale(1 1.05)" >LN</text>
<line x1="276.70" y1="425.40" x2="276.70" y2="515.50" stroke="#000" stroke-width="1.4" />
<line x1="272.70" y1="425.40" x2="280.70" y2="425.40" stroke="#000" stroke-width="1.4" />
<line x1="272.70" y1="515.50" x2="280.70" y2="515.50" stroke="#000" stroke-width="1.4" />
<circle cx="276.70" cy="470.60" r="3.6" fill="#000"/>
<line x1="276.70" y1="560.00" x2="276.70" y2="567.20" stroke="#000" stroke-width="2.0" />
<text text-anchor="end" fill="#000" style="font-size:12.5px;stroke:#000;stroke-width:0.2px;" transform="translate(281.10 569.00) rotate(-90) scale(1 1.05)" >Ovary</text>
<line x1="296.90" y1="435.80" x2="296.90" y2="522.30" stroke="#000" stroke-width="1.4" />
<line x1="292.90" y1="435.80" x2="300.90" y2="435.80" stroke="#000" stroke-width="1.4" />
<line x1="292.90" y1="522.30" x2="300.90" y2="522.30" stroke="#000" stroke-width="1.4" />
<circle cx="296.90" cy="479.00" r="3.6" fill="#000"/>
<line x1="296.90" y1="560.00" x2="296.90" y2="567.20" stroke="#000" stroke-width="2.0" />
<text text-anchor="end" fill="#000" style="font-size:12.5px;stroke:#000;stroke-width:0.2px;" transform="translate(301.30 569.00) rotate(-90) scale(1 1.05)" >Pleura</text>
<line x1="317.10" y1="433.80" x2="317.10" y2="520.50" stroke="#000" stroke-width="1.4" />
<line x1="313.10" y1="433.80" x2="321.10" y2="433.80" stroke="#000" stroke-width="1.4" />
<line x1="313.10" y1="520.50" x2="321.10" y2="520.50" stroke="#000" stroke-width="1.4" />
<circle cx="317.10" cy="477.00" r="3.6" fill="#000"/>
<line x1="317.10" y1="560.00" x2="317.10" y2="567.20" stroke="#000" stroke-width="2.0" />
<text text-anchor="end" fill="#000" style="font-size:12.5px;stroke:#000;stroke-width:0.2px;" transform="translate(321.50 569.00) rotate(-90) scale(1 1.05)" >Skin</text>
<line x1="337.40" y1="434.40" x2="337.40" y2="522.60" stroke="#000" stroke-width="1.4" />
<line x1="333.40" y1="434.40" x2="341.40" y2="434.40" stroke="#000" stroke-width="1.4" />
<line x1="333.40" y1="522.60" x2="341.40" y2="522.60" stroke="#000" stroke-width="1.4" />
<circle cx="337.40" cy="478.50" r="3.6" fill="#000"/>
<line x1="337.40" y1="560.00" x2="337.40" y2="567.20" stroke="#000" stroke-width="2.0" />
<text text-anchor="end" fill="#000" style="font-size:12.5px;stroke:#000;stroke-width:0.2px;" transform="translate(341.80 569.00) rotate(-90) scale(1 1.05)" >Soft Tissue</text>
<line x1="357.70" y1="466.20" x2="357.70" y2="480.20" stroke="#000" stroke-width="1.4" />
<line x1="353.70" y1="466.20" x2="361.70" y2="466.20" stroke="#000" stroke-width="1.4" />
<line x1="353.70" y1="480.20" x2="361.70" y2="480.20" stroke="#000" stroke-width="1.4" />
<circle cx="357.70" cy="473.20" r="3.6" fill="#000"/>
<line x1="357.70" y1="560.00" x2="357.70" y2="567.20" stroke="#000" stroke-width="2.0" />
<text text-anchor="end" fill="#000" style="font-size:12.5px;stroke:#000;stroke-width:0.2px;" transform="translate(362.10 569.00) rotate(-90) scale(1 1.05)" >Missense</text>
<line x1="378.00" y1="469.40" x2="378.00" y2="549.10" stroke="#000" stroke-width="1.4" />
<line x1="374.00" y1="469.40" x2="382.00" y2="469.40" stroke="#000" stroke-width="1.4" />
<line x1="374.00" y1="549.10" x2="382.00" y2="549.10" stroke="#000" stroke-width="1.4" />
<circle cx="378.00" cy="509.40" r="3.6" fill="#000"/>
<line x1="378.00" y1="560.00" x2="378.00" y2="567.20" stroke="#000" stroke-width="2.0" />
<text text-anchor="end" fill="#000" style="font-size:12.5px;stroke:#000;stroke-width:0.2px;" transform="translate(382.40 569.00) rotate(-90) scale(1 1.05)" >Indel</text>
<line x1="398.20" y1="465.90" x2="398.20" y2="522.80" stroke="#000" stroke-width="1.4" />
<line x1="394.20" y1="465.90" x2="402.20" y2="465.90" stroke="#000" stroke-width="1.4" />
<line x1="394.20" y1="522.80" x2="402.20" y2="522.80" stroke="#000" stroke-width="1.4" />
<circle cx="398.20" cy="494.20" r="3.6" fill="#000"/>
<line x1="398.20" y1="560.00" x2="398.20" y2="567.20" stroke="#000" stroke-width="2.0" />
<text text-anchor="end" fill="#000" style="font-size:12.5px;stroke:#000;stroke-width:0.2px;" transform="translate(402.60 569.00) rotate(-90) scale(1 1.05)" >Nonsense</text>
<line x1="418.50" y1="453.60" x2="418.50" y2="488.40" stroke="#000" stroke-width="1.4" />
<line x1="414.50" y1="453.60" x2="422.50" y2="453.60" stroke="#000" stroke-width="1.4" />
<line x1="414.50" y1="488.40" x2="422.50" y2="488.40" stroke="#000" stroke-width="1.4" />
<circle cx="418.50" cy="471.20" r="3.6" fill="#000"/>
<line x1="418.50" y1="560.00" x2="418.50" y2="567.20" stroke="#000" stroke-width="2.0" />
<text text-anchor="end" fill="#000" style="font-size:12.5px;stroke:#000;stroke-width:0.2px;" transform="translate(422.90 569.00) rotate(-90) scale(1 1.05)" >Splice Site</text>
<line x1="438.80" y1="460.00" x2="438.80" y2="484.90" stroke="#000" stroke-width="1.4" />
<line x1="434.80" y1="460.00" x2="442.80" y2="460.00" stroke="#000" stroke-width="1.4" />
<line x1="434.80" y1="484.90" x2="442.80" y2="484.90" stroke="#000" stroke-width="1.4" />
<circle cx="438.80" cy="472.90" r="3.6" fill="#000"/>
<line x1="438.80" y1="560.00" x2="438.80" y2="567.20" stroke="#000" stroke-width="2.0" />
<text text-anchor="end" fill="#000" style="font-size:12.5px;stroke:#000;stroke-width:0.2px;" transform="translate(443.20 569.00) rotate(-90) scale(1 1.05)" >Strong LOF</text>
<line x1="459.00" y1="464.50" x2="459.00" y2="489.00" stroke="#000" stroke-width="1.4" />
<line x1="455.00" y1="464.50" x2="463.00" y2="464.50" stroke="#000" stroke-width="1.4" />
<line x1="455.00" y1="489.00" x2="463.00" y2="489.00" stroke="#000" stroke-width="1.4" />
<circle cx="459.00" cy="476.70" r="3.6" fill="#000"/>
<line x1="459.00" y1="560.00" x2="459.00" y2="567.20" stroke="#000" stroke-width="2.0" />
<text text-anchor="end" fill="#000" style="font-size:12.5px;stroke:#000;stroke-width:0.2px;" transform="translate(463.40 569.00) rotate(-90) scale(1 1.05)" >Medium LOF</text>
<line x1="479.30" y1="459.50" x2="479.30" y2="480.20" stroke="#000" stroke-width="1.4" />
<line x1="475.30" y1="459.50" x2="483.30" y2="459.50" stroke="#000" stroke-width="1.4" />
<line x1="475.30" y1="480.20" x2="483.30" y2="480.20" stroke="#000" stroke-width="1.4" />
<circle cx="479.30" cy="469.70" r="3.6" fill="#000"/>
<line x1="479.30" y1="560.00" x2="479.30" y2="567.20" stroke="#000" stroke-width="2.0" />
<text text-anchor="end" fill="#000" style="font-size:12.5px;stroke:#000;stroke-width:0.2px;" transform="translate(483.70 569.00) rotate(-90) scale(1 1.05)" >Weak LOF</text>
<line x1="499.50" y1="458.90" x2="499.50" y2="483.70" stroke="#000" stroke-width="1.4" />
<line x1="495.50" y1="458.90" x2="503.50" y2="458.90" stroke="#000" stroke-width="1.4" />
<line x1="495.50" y1="483.70" x2="503.50" y2="483.70" stroke="#000" stroke-width="1.4" />
<circle cx="499.50" cy="471.50" r="3.6" fill="#000"/>
<line x1="499.50" y1="560.00" x2="499.50" y2="567.20" stroke="#000" stroke-width="2.0" />
<text text-anchor="end" fill="#000" style="font-size:12.5px;stroke:#000;stroke-width:0.2px;" transform="translate(503.90 569.00) rotate(-90) scale(1 1.05)" >p53 GOF Missense</text>
<line x1="519.90" y1="472.00" x2="519.90" y2="486.30" stroke="#000" stroke-width="1.4" />
<line x1="515.90" y1="472.00" x2="523.90" y2="472.00" stroke="#000" stroke-width="1.4" />
<line x1="515.90" y1="486.30" x2="523.90" y2="486.30" stroke="#000" stroke-width="1.4" />
<circle cx="519.90" cy="479.10" r="3.6" fill="#000"/>
<line x1="519.90" y1="560.00" x2="519.90" y2="567.20" stroke="#000" stroke-width="2.0" />
<text text-anchor="end" fill="#000" style="font-size:12.5px;stroke:#000;stroke-width:0.2px;" transform="translate(524.30 569.00) rotate(-90) scale(1 1.05)" >p53 Other Missense</text>
<line x1="540.20" y1="466.40" x2="540.20" y2="484.20" stroke="#000" stroke-width="1.4" />
<line x1="536.20" y1="466.40" x2="544.20" y2="466.40" stroke="#000" stroke-width="1.4" />
<line x1="536.20" y1="484.20" x2="544.20" y2="484.20" stroke="#000" stroke-width="1.4" />
<circle cx="540.20" cy="475.30" r="3.6" fill="#000"/>
<line x1="540.20" y1="560.00" x2="540.20" y2="567.20" stroke="#000" stroke-width="2.0" />
<text text-anchor="end" fill="#000" style="font-size:12.5px;stroke:#000;stroke-width:0.2px;" transform="translate(544.60 569.00) rotate(-90) scale(1 1.05)" >D538G</text>
<line x1="560.40" y1="469.60" x2="560.40" y2="499.00" stroke="#000" stroke-width="1.4" />
<line x1="556.40" y1="469.60" x2="564.40" y2="469.60" stroke="#000" stroke-width="1.4" />
<line x1="556.40" y1="499.00" x2="564.40" y2="499.00" stroke="#000" stroke-width="1.4" />
<circle cx="560.40" cy="484.20" r="3.6" fill="#000"/>
<line x1="560.40" y1="560.00" x2="560.40" y2="567.20" stroke="#000" stroke-width="2.0" />
<text text-anchor="end" fill="#000" style="font-size:12.5px;stroke:#000;stroke-width:0.2px;" transform="translate(564.80 569.00) rotate(-90) scale(1 1.05)" >Y537S</text>
<line x1="580.70" y1="460.70" x2="580.70" y2="502.60" stroke="#000" stroke-width="1.4" />
<line x1="576.70" y1="460.70" x2="584.70" y2="460.70" stroke="#000" stroke-width="1.4" />
<line x1="576.70" y1="502.60" x2="584.70" y2="502.60" stroke="#000" stroke-width="1.4" />
<circle cx="580.70" cy="481.50" r="3.6" fill="#000"/>
<line x1="580.70" y1="560.00" x2="580.70" y2="567.20" stroke="#000" stroke-width="2.0" />
<text text-anchor="end" fill="#000" style="font-size:12.5px;stroke:#000;stroke-width:0.2px;" transform="translate(585.10 569.00) rotate(-90) scale(1 1.05)" >E380Q</text>
<line x1="97.70" y1="461.90" x2="608.00" y2="459.40" stroke="#e8262b" stroke-width="1.7" stroke-dasharray="5.6 2.0"/>
<text text-anchor="middle" fill="#000" style="font-size:15.5px;stroke:#000;stroke-width:0.2px;" transform="translate(114.80 459.50) scale(1 1.05)" >**</text>
<text text-anchor="middle" fill="#000" style="font-size:15.5px;stroke:#000;stroke-width:0.2px;" transform="translate(136.00 459.50) scale(1 1.05)" >**</text>
<text text-anchor="middle" fill="#000" style="font-size:15.5px;stroke:#000;stroke-width:0.2px;" transform="translate(215.80 459.50) scale(1 1.05)" >**</text>
<text text-anchor="middle" fill="#000" style="font-size:15.5px;stroke:#000;stroke-width:0.2px;" transform="translate(357.70 459.50) scale(1 1.05)" >**</text>
<text text-anchor="middle" fill="#000" style="font-size:15.5px;stroke:#000;stroke-width:0.2px;" transform="translate(378.00 459.50) scale(1 1.05)" >*</text>
<text text-anchor="middle" fill="#000" style="font-size:15.5px;stroke:#000;stroke-width:0.2px;" transform="translate(398.20 459.50) scale(1 1.05)" >*</text>
<text text-anchor="middle" fill="#000" style="font-size:15.5px;stroke:#000;stroke-width:0.2px;" transform="translate(459.00 459.50) scale(1 1.05)" >*</text>
<text text-anchor="middle" fill="#000" style="font-size:15.5px;stroke:#000;stroke-width:0.2px;" transform="translate(519.30 459.50) scale(1 1.05)" >**</text>
<text text-anchor="middle" fill="#000" style="font-size:15.5px;stroke:#000;stroke-width:0.2px;" transform="translate(539.60 459.50) scale(1 1.05)" >**</text>
<text text-anchor="middle" fill="#000" style="font-size:15.5px;stroke:#000;stroke-width:0.2px;" transform="translate(560.20 459.50) scale(1 1.05)" >**</text>
<path d="M620.1 356.0 L628.1 364.9 L625.0 364.9 L625.0 455.3 L616.0 455.3 L616.0 364.9 L611.6 364.9 Z" fill="#b5b8b8"/>
<path d="M620.1 565.6 L628.1 556.9 L625.0 556.9 L625.0 466.1 L616.0 466.1 L616.0 556.9 L611.6 556.9 Z" fill="#b5b8b8"/>
<text text-anchor="middle" fill="#000" style="font-size:12.2px;font-weight:bold;stroke:#000;stroke-width:0.3px;" transform="translate(651.00 403.80) rotate(-90) scale(1 1.05)" >Co-occurrent</text>
<text text-anchor="middle" fill="#000" style="font-size:12.2px;font-weight:bold;stroke:#000;stroke-width:0.3px;" transform="translate(647.90 511.90) rotate(-90) scale(1 1.05)" >Mutually</text>
<text text-anchor="middle" fill="#000" style="font-size:12.2px;font-weight:bold;stroke:#000;stroke-width:0.3px;" transform="translate(662.20 511.70) rotate(-90) scale(1 1.05)" >Exclusivity</text>
<text text-anchor="start" fill="#000" style="font-size:22px;font-weight:bold;stroke:#000;stroke-width:0.3px;" transform="translate(118.10 706.70) scale(1 1.05)" >d</text>
<text text-anchor="middle" fill="#000" style="font-size:15.45px;font-weight:bold;stroke:#000;stroke-width:0.3px;" transform="translate(277.90 698.80) scale(1 1.05)" >Correlation of sample numbers</text>
<text text-anchor="middle" fill="#000" style="font-size:15.45px;font-weight:bold;stroke:#000;stroke-width:0.3px;" transform="translate(280.10 717.70) scale(1 1.05)" >to significance of exclusivity</text>
<text text-anchor="start" fill="#000" style="font-size:12px;stroke:#000;stroke-width:0.2px;" transform="translate(213.20 748.50) scale(1 1.05)" >P&lt;0.0001</text>
<line x1="205.00" y1="884.60" x2="324.60" y2="768.30" stroke="#222" stroke-width="1.1" />
<line x1="204.60" y1="751.00" x2="204.60" y2="889.20" stroke="#000" stroke-width="1.8" />
<line x1="203.70" y1="888.30" x2="352.90" y2="888.30" stroke="#000" stroke-width="1.8" />
<line x1="197.40" y1="888.30" x2="204.60" y2="888.30" stroke="#000" stroke-width="1.8" />
<text text-anchor="end" fill="#000" style="font-size:15.5px;font-weight:bold;stroke:#000;stroke-width:0.3px;" transform="translate(194.10 893.80) scale(1 1.05)" >0</text>
<line x1="197.40" y1="861.05" x2="204.60" y2="861.05" stroke="#000" stroke-width="1.8" />
<text text-anchor="end" fill="#000" style="font-size:15.5px;font-weight:bold;stroke:#000;stroke-width:0.3px;" transform="translate(194.10 866.55) scale(1 1.05)" >1</text>
<line x1="197.40" y1="833.80" x2="204.60" y2="833.80" stroke="#000" stroke-width="1.8" />
<text text-anchor="end" fill="#000" style="font-size:15.5px;font-weight:bold;stroke:#000;stroke-width:0.3px;" transform="translate(194.10 839.30) scale(1 1.05)" >2</text>
<line x1="197.40" y1="806.55" x2="204.60" y2="806.55" stroke="#000" stroke-width="1.8" />
<text text-anchor="end" fill="#000" style="font-size:15.5px;font-weight:bold;stroke:#000;stroke-width:0.3px;" transform="translate(194.10 812.05) scale(1 1.05)" >3</text>
<line x1="197.40" y1="779.30" x2="204.60" y2="779.30" stroke="#000" stroke-width="1.8" />
<text text-anchor="end" fill="#000" style="font-size:15.5px;font-weight:bold;stroke:#000;stroke-width:0.3px;" transform="translate(194.10 784.80) scale(1 1.05)" >4</text>
<line x1="197.40" y1="752.05" x2="204.60" y2="752.05" stroke="#000" stroke-width="1.8" />
<text text-anchor="end" fill="#000" style="font-size:15.5px;font-weight:bold;stroke:#000;stroke-width:0.3px;" transform="translate(194.10 757.55) scale(1 1.05)" >5</text>
<line x1="204.60" y1="888.30" x2="204.60" y2="895.70" stroke="#000" stroke-width="1.8" />
<text text-anchor="middle" fill="#000" style="font-size:15.5px;font-weight:bold;stroke:#000;stroke-width:0.3px;" transform="translate(204.20 913.60) scale(1 1.05)" >0</text>
<line x1="241.50" y1="888.30" x2="241.50" y2="895.70" stroke="#000" stroke-width="1.8" />
<text text-anchor="middle" fill="#000" style="font-size:15.5px;font-weight:bold;stroke:#000;stroke-width:0.3px;" transform="translate(241.10 913.60) scale(1 1.05)" >200</text>
<line x1="278.40" y1="888.30" x2="278.40" y2="895.70" stroke="#000" stroke-width="1.8" />
<text text-anchor="middle" fill="#000" style="font-size:15.5px;font-weight:bold;stroke:#000;stroke-width:0.3px;" transform="translate(278.00 913.60) scale(1 1.05)" >400</text>
<line x1="315.30" y1="888.30" x2="315.30" y2="895.70" stroke="#000" stroke-width="1.8" />
<text text-anchor="middle" fill="#000" style="font-size:15.5px;font-weight:bold;stroke:#000;stroke-width:0.3px;" transform="translate(314.90 913.60) scale(1 1.05)" >600</text>
<line x1="352.20" y1="888.30" x2="352.20" y2="895.70" stroke="#000" stroke-width="1.8" />
<text text-anchor="middle" fill="#000" style="font-size:15.5px;font-weight:bold;stroke:#000;stroke-width:0.3px;" transform="translate(351.80 913.60) scale(1 1.05)" >800</text>
<text text-anchor="middle" fill="#000" style="font-size:14.4px;font-weight:bold;stroke:#000;stroke-width:0.3px;" transform="translate(278.20 935.50) scale(1 1.05)" >Sample Number</text>
<text text-anchor="middle" fill="#000" style="font-size:14.3px;font-weight:bold;stroke:#000;stroke-width:0.3px;" transform="translate(178.20 817.80) rotate(-90) scale(1 1.05)" >-log10 p</text>
<path d="M324.40 775.40 L328.09 782.50 L320.71 782.50 Z" fill="#ee3333" stroke="#111" stroke-width="0.9" stroke-linejoin="miter"/>
<circle cx="268.90" cy="802.20" r="3.6" fill="#ee3333" stroke="#111" stroke-width="1.0"/>
<path d="M232.60 851.50 L236.29 858.60 L228.91 858.60 Z" fill="#2c4da8" stroke="#111" stroke-width="0.9" stroke-linejoin="miter"/>
<circle cx="228.60" cy="854.20" r="3.6" fill="#2c4da8" stroke="#111" stroke-width="1.0"/>
<circle cx="233.60" cy="864.90" r="3.6" fill="#f39130" stroke="#111" stroke-width="1.0"/>
<circle cx="219.10" cy="873.70" r="3.6" fill="#b556a9" stroke="#111" stroke-width="1.0"/>
<circle cx="214.30" cy="881.40" r="3.6" fill="#ffffff" stroke="#111" stroke-width="1.0"/>
<circle cx="209.90" cy="878.00" r="3.6" fill="#2aa566" stroke="#111" stroke-width="1.0"/>
<circle cx="211.60" cy="880.00" r="3.6" fill="#55c7c4" stroke="#111" stroke-width="1.0"/>
<circle cx="209.20" cy="883.90" r="3.6" fill="#5b3da0" stroke="#111" stroke-width="1.0"/>
<text text-anchor="start" fill="#000" style="font-size:10.55px;stroke:#000;stroke-width:0.2px;" transform="translate(391.40 734.90) scale(1 1.05)" >Histology Subtype</text>
<path d="M399.40 745.02 L403.45 752.81 L395.35 752.81 Z" fill="#ee3333" stroke="#111" stroke-width="0.9" stroke-linejoin="miter"/>
<text text-anchor="start" fill="#000" style="font-size:10.55px;stroke:#000;stroke-width:0.2px;" transform="translate(407.50 752.80) scale(1 1.05)" >IDC</text>
<path d="M399.40 759.62 L403.45 767.41 L395.35 767.41 Z" fill="#2c4da8" stroke="#111" stroke-width="0.9" stroke-linejoin="miter"/>
<text text-anchor="start" fill="#000" style="font-size:10.55px;stroke:#000;stroke-width:0.2px;" transform="translate(407.50 767.70) scale(1 1.05)" >ILC</text>
<text text-anchor="start" fill="#000" style="font-size:10.55px;stroke:#000;stroke-width:0.2px;" transform="translate(393.30 783.90) scale(1 1.05)" >Metastatic Site</text>
<circle cx="399.20" cy="794.70" r="3.5" fill="#ee3333" stroke="#111" stroke-width="1.0"/>
<text text-anchor="start" fill="#000" style="font-size:10.55px;stroke:#000;stroke-width:0.2px;" transform="translate(407.50 799.50) scale(1 1.05)" >Liver</text>
<circle cx="399.20" cy="808.63" r="3.5" fill="#2c4da8" stroke="#111" stroke-width="1.0"/>
<text text-anchor="start" fill="#000" style="font-size:10.55px;stroke:#000;stroke-width:0.2px;" transform="translate(407.50 813.43) scale(1 1.05)" >Bone</text>
<circle cx="399.20" cy="822.56" r="3.5" fill="#b8524f" stroke="#111" stroke-width="1.0"/>
<text text-anchor="start" fill="#000" style="font-size:10.55px;stroke:#000;stroke-width:0.2px;" transform="translate(407.50 827.36) scale(1 1.05)" >Lymph Node</text>
<circle cx="399.20" cy="836.49" r="3.5" fill="#b556a9" stroke="#111" stroke-width="1.0"/>
<text text-anchor="start" fill="#000" style="font-size:10.55px;stroke:#000;stroke-width:0.2px;" transform="translate(407.50 841.29) scale(1 1.05)" >Chest Wall</text>
<circle cx="399.20" cy="850.42" r="3.5" fill="#b1b4b4" stroke="#111" stroke-width="1.0"/>
<text text-anchor="start" fill="#000" style="font-size:10.55px;stroke:#000;stroke-width:0.2px;" transform="translate(407.50 855.22) scale(1 1.05)" >Pleura</text>
<circle cx="399.20" cy="864.35" r="3.5" fill="#f6ab78" stroke="#111" stroke-width="1.0"/>
<text text-anchor="start" fill="#000" style="font-size:10.55px;stroke:#000;stroke-width:0.2px;" transform="translate(407.50 869.15) scale(1 1.05)" >Lung</text>
<circle cx="399.20" cy="878.28" r="3.5" fill="#1f9cd8" stroke="#111" stroke-width="1.0"/>
<text text-anchor="start" fill="#000" style="font-size:10.55px;stroke:#000;stroke-width:0.2px;" transform="translate(407.50 883.08) scale(1 1.05)" >Skin</text>
<circle cx="399.20" cy="892.21" r="3.5" fill="#5b3da0" stroke="#111" stroke-width="1.0"/>
<text text-anchor="start" fill="#000" style="font-size:10.55px;stroke:#000;stroke-width:0.2px;" transform="translate(407.50 897.01) scale(1 1.05)" >Soft Tissue</text>
<circle cx="399.20" cy="906.14" r="3.5" fill="#fff" stroke="#111" stroke-width="1.0"/>
<text text-anchor="start" fill="#000" style="font-size:10.55px;stroke:#000;stroke-width:0.2px;" transform="translate(407.50 910.94) scale(1 1.05)" >Ovary</text>
</svg>
</body>
</html>
